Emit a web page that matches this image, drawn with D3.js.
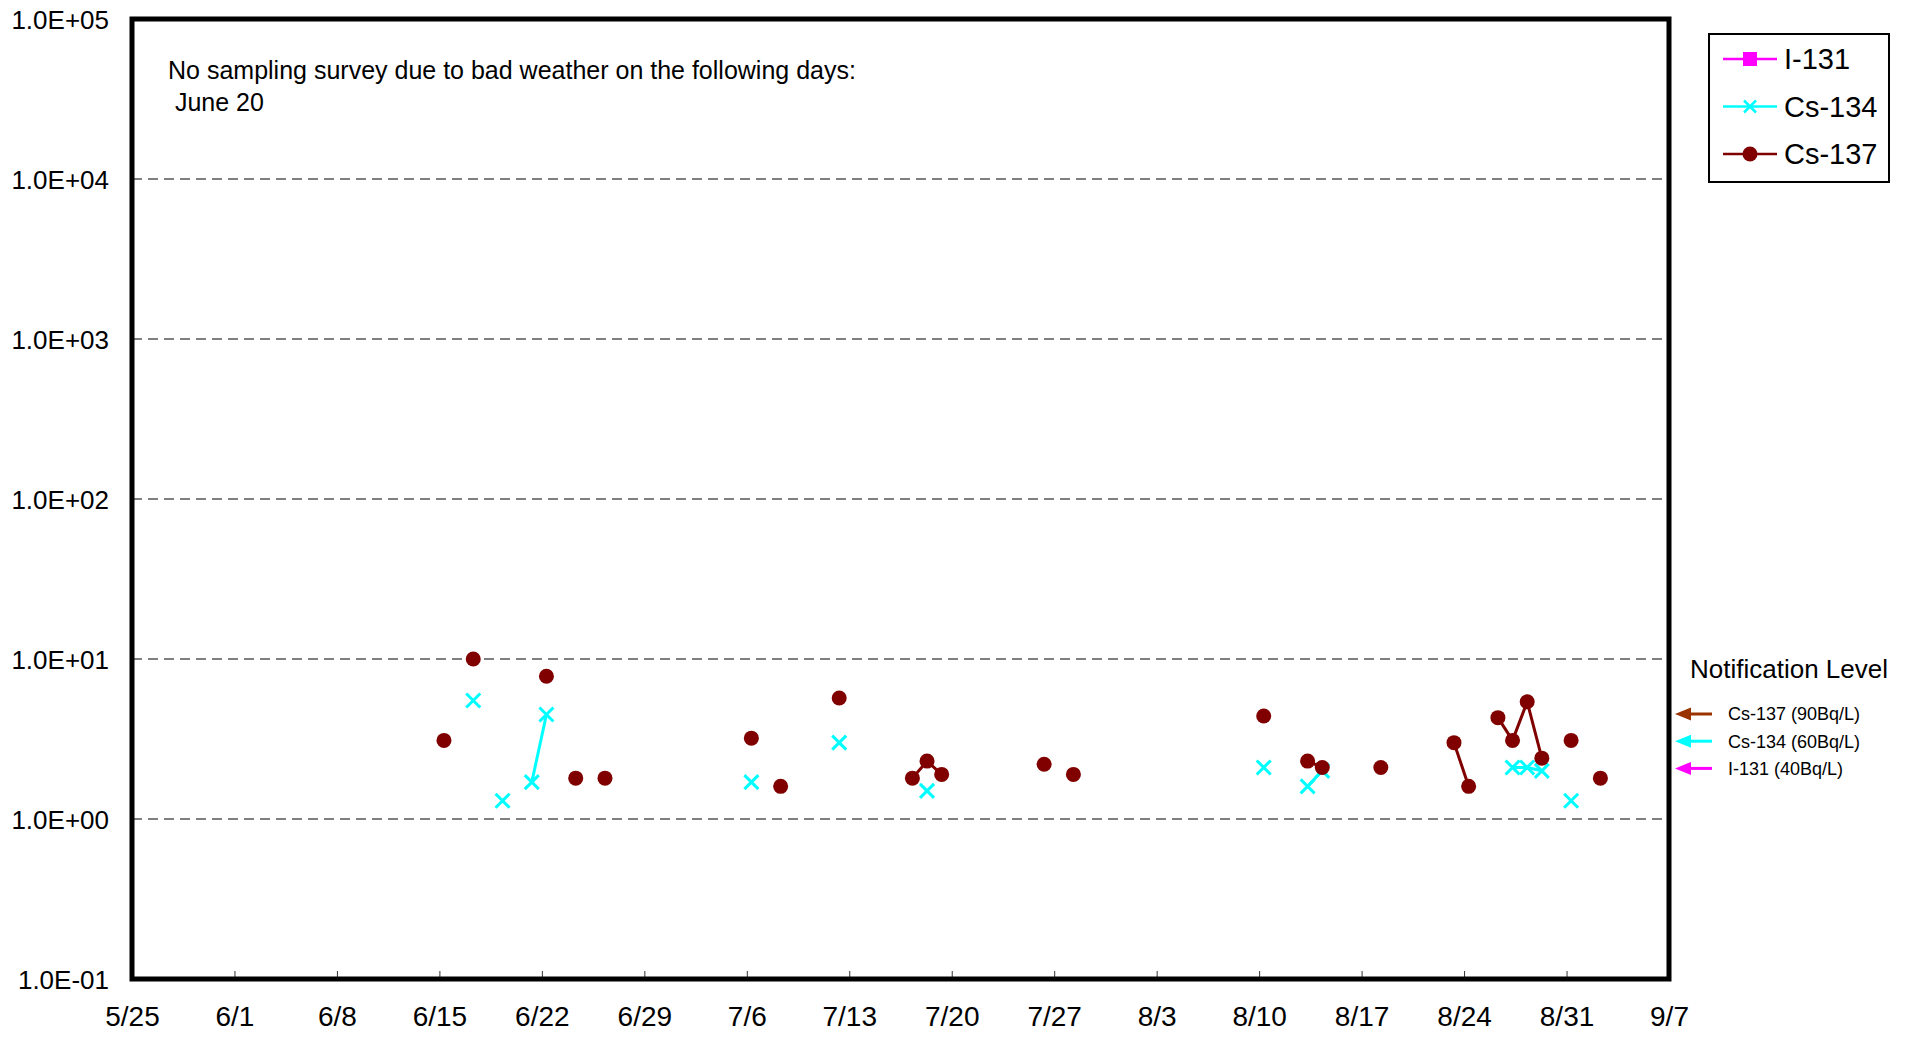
<!DOCTYPE html>
<html>
<head>
<meta charset="utf-8">
<script src="https://cdn.jsdelivr.net/npm/d3@7"></script>
<style>
  html, body { margin: 0; padding: 0; background: #fff; }
  svg { display: block; font-family: "Liberation Sans", Arial, sans-serif; }
</style>
</head>
<body>
<svg id="chart" width="1912" height="1037"></svg>
<script>
// ---- Data ----
const year = 2013;
const sampleTime = "07:30";
const xTickLabels = ["5/25","6/1","6/8","6/15","6/22","6/29","7/6","7/13","7/20","7/27","8/3","8/10","8/17","8/24","8/31","9/7"];
const yTickValues = [0.1, 1, 10, 100, 1000, 10000, 100000];
const yTickLabels = ["1.0E-01","1.0E+00","1.0E+01","1.0E+02","1.0E+03","1.0E+04","1.0E+05"];

const i131Dates = [];
const i131Values = [];

const cs134Dates = ["6/17","6/19","6/21","6/22","7/6","7/12","7/18","8/10","8/13","8/14","8/27","8/28","8/29","8/31"];
const cs134Values = [5.5, 1.3, 1.7, 4.5, 1.7, 3.0, 1.5, 2.1, 1.6, 2.0, 2.1, 2.1, 2.0, 1.3];

const cs137Dates = ["6/15","6/17","6/22","6/24","6/26","7/6","7/8","7/12","7/17","7/18","7/19","7/26","7/28","8/10","8/13","8/14","8/18","8/23","8/24","8/26","8/27","8/28","8/29","8/31","9/2"];
const cs137Values = [3.1, 10.0, 7.8, 1.8, 1.8, 3.2, 1.6, 5.7, 1.8, 2.3, 1.9, 2.2, 1.9, 4.4, 2.3, 2.1, 2.1, 3.0, 1.6, 4.3, 3.1, 5.4, 2.4, 3.1, 1.8];

const seriesNames = ["I-131", "Cs-134", "Cs-137"];
const seriesColors = ["#FF00FF", "#00FFFF", "#800000"];
const notifyLabels = ["Cs-137 (90Bq/L)", "Cs-134 (60Bq/L)", "I-131 (40Bq/L)"];
const notifyColors = ["#993300", "#00FFFF", "#FF00FF"];
const annotationLines = ["No sampling survey due to bad weather on the following days:", " June 20"];

// ---- Helpers ----
const parseDay = s => { const [m, d] = s.split("/").map(Number); return new Date(year, m - 1, d); };
const parseSample = s => { const dt = parseDay(s); const [h, mi] = sampleTime.split(":").map(Number); dt.setHours(h, mi); return dt; };

// ---- Layout ----
const svg = d3.select("#chart");
const plot = { left: 132, top: 19, right: 1669, bottom: 979 };

const x = d3.scaleTime()
  .domain([parseDay(xTickLabels[0]), parseDay(xTickLabels[xTickLabels.length - 1])])
  .range([plot.left, plot.right]);
const y = d3.scaleLog()
  .domain([yTickValues[0], yTickValues[yTickValues.length - 1]])
  .range([plot.bottom, plot.top]);

// Gridlines
svg.append("g").selectAll("line")
  .data(yTickValues.slice(1, -1))
  .join("line")
  .attr("x1", plot.left).attr("x2", plot.right)
  .attr("y1", d => y(d)).attr("y2", d => y(d))
  .attr("stroke", "#555").attr("stroke-width", 1.3)
  .attr("stroke-dasharray", "10,6");

// X axis (ticks inward)
const xAxis = d3.axisBottom(x)
  .tickValues(xTickLabels.map(parseDay))
  .tickFormat((d, i) => xTickLabels[i])
  .tickSizeInner(-8).tickSizeOuter(0).tickPadding(27);
const gx = svg.append("g").attr("transform", `translate(0,${plot.bottom})`).call(xAxis);
gx.select(".domain").remove();
gx.selectAll(".tick line").attr("stroke", "#333").attr("stroke-width", 1);
gx.selectAll(".tick text").attr("font-size", 28).attr("fill", "#000")
  .attr("font-family", "Liberation Sans, Arial, sans-serif").attr("dy", "0.71em");

// Y axis
const yAxis = d3.axisLeft(y)
  .tickValues(yTickValues)
  .tickFormat((d, i) => yTickLabels[i])
  .tickSize(0).tickPadding(23);
const gy = svg.append("g").attr("transform", `translate(${plot.left},0)`).call(yAxis);
gy.select(".domain").remove();
gy.selectAll(".tick text").attr("font-size", 26).attr("fill", "#000")
  .attr("font-family", "Liberation Sans, Arial, sans-serif").attr("dy", "0.36em");

// Plot border
svg.append("rect")
  .attr("x", plot.left).attr("y", plot.top)
  .attr("width", plot.right - plot.left).attr("height", plot.bottom - plot.top)
  .attr("fill", "none").attr("stroke", "#000").attr("stroke-width", 5);

// Annotation
svg.append("g").selectAll("text")
  .data(annotationLines)
  .join("text")
  .attr("x", 168).attr("y", (d, i) => 79 + i * 32)
  .attr("font-size", 25).attr("fill", "#000")
  .attr("xml:space", "preserve")
  .style("white-space", "pre")
  .text(d => d);

// Series
const DAY = 86400000;
function drawSeries(dates, values, color, marker) {
  const pts = dates.map((d, i) => ({ day: parseDay(d), t: parseSample(d), v: values[i] }));
  // segments: connect only consecutive sampling days
  const segs = [];
  pts.forEach((p, i) => {
    if (i > 0 && Math.round((p.day - pts[i - 1].day) / DAY) === 1) segs[segs.length - 1].push(p);
    else segs.push([p]);
  });
  const line = d3.line().x(p => x(p.t)).y(p => y(p.v));
  const g = svg.append("g");
  g.selectAll("path").data(segs.filter(s => s.length > 1)).join("path")
    .attr("d", line).attr("fill", "none").attr("stroke", color).attr("stroke-width", 3);
  if (marker === "circle") {
    g.selectAll("circle").data(pts).join("circle")
      .attr("cx", p => x(p.t)).attr("cy", p => y(p.v)).attr("r", 7.5).attr("fill", color);
  } else if (marker === "x") {
    const s = 7;
    g.selectAll("path.mk").data(pts).join("path").attr("class", "mk")
      .attr("d", p => { const cx = x(p.t), cy = y(p.v); return `M${cx - s},${cy - s}L${cx + s},${cy + s}M${cx - s},${cy + s}L${cx + s},${cy - s}`; })
      .attr("stroke", color).attr("stroke-width", 3).attr("fill", "none");
  } else {
    g.selectAll("rect").data(pts).join("rect")
      .attr("x", p => x(p.t) - 7).attr("y", p => y(p.v) - 7).attr("width", 14).attr("height", 14).attr("fill", color);
  }
}
drawSeries(i131Dates, i131Values, seriesColors[0], "square");
drawSeries(cs134Dates, cs134Values, seriesColors[1], "x");
drawSeries(cs137Dates, cs137Values, seriesColors[2], "circle");

// Legend
const legend = svg.append("g");
legend.append("rect").attr("x", 1709).attr("y", 34).attr("width", 180).attr("height", 148)
  .attr("fill", "#fff").attr("stroke", "#000").attr("stroke-width", 2);
const markers = ["square", "x", "circle"];
seriesNames.forEach((name, i) => {
  const cy = 59 + i * 47.5;
  const lg = legend.append("g");
  lg.append("line").attr("x1", 1723).attr("x2", 1777).attr("y1", cy).attr("y2", cy)
    .attr("stroke", seriesColors[i]).attr("stroke-width", 2.5);
  const cx = 1750;
  if (markers[i] === "square") lg.append("rect").attr("x", cx - 7).attr("y", cy - 7).attr("width", 14).attr("height", 14).attr("fill", seriesColors[i]);
  else if (markers[i] === "x") lg.append("path").attr("d", `M${cx - 6},${cy - 6}L${cx + 6},${cy + 6}M${cx - 6},${cy + 6}L${cx + 6},${cy - 6}`).attr("stroke", seriesColors[i]).attr("stroke-width", 2.5);
  else lg.append("circle").attr("cx", cx).attr("cy", cy).attr("r", 7.5).attr("fill", seriesColors[i]);
  lg.append("text").attr("x", 1784).attr("y", cy).attr("dy", "0.36em")
    .attr("font-size", 29).attr("fill", "#000").text(name);
});

// Notification level
svg.append("text").attr("x", 1690).attr("y", 678).attr("font-size", 26).attr("fill", "#000").text("Notification Level");
notifyLabels.forEach((lab, i) => {
  const cy = 714 + i * 27.2;
  const g = svg.append("g");
  g.append("line").attr("x1", 1688).attr("x2", 1712).attr("y1", cy).attr("y2", cy)
    .attr("stroke", notifyColors[i]).attr("stroke-width", 3);
  g.append("path").attr("d", `M1675,${cy}L1691,${cy - 6.5}L1691,${cy + 6.5}Z`).attr("fill", notifyColors[i]);
  g.append("text").attr("x", 1728).attr("y", cy).attr("dy", "0.36em")
    .attr("font-size", 18).attr("fill", "#000").attr("xml:space", "preserve").text(lab);
});
</script>
</body>
</html>
